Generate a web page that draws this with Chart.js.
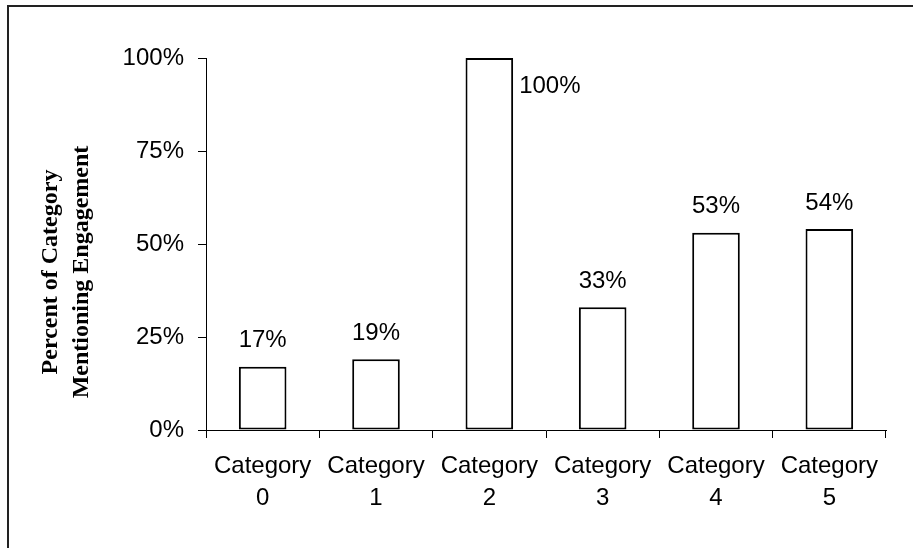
<!DOCTYPE html>
<html>
<head>
<meta charset="utf-8">
<script src="https://cdn.jsdelivr.net/npm/chart.js@4/dist/chart.umd.min.js"></script>
<style>
  html, body { margin: 0; padding: 0; background: #fff; }
  canvas { display: block; }
</style>
</head>
<body>
<canvas id="chart" width="913" height="548"></canvas>
<script>
// Share of each category that mentions engagement (percent)
const categories = ['Category 0', 'Category 1', 'Category 2', 'Category 3', 'Category 4', 'Category 5'];
const percentValues = [17, 19, 100, 33, 53, 54];
const yTickValues = [0, 25, 50, 75, 100];
const yAxisTitle = ['Percent of Category', 'Mentioning Engagement'];

const sansFont = "'Liberation Sans', Arial, sans-serif";
const serifFont = "'Liberation Serif', 'Times New Roman', serif";

// Outer frame (top and left edges)
const framePlugin = {
  id: 'frame',
  beforeDraw(chart) {
    const ctx = chart.ctx;
    ctx.save();
    ctx.fillStyle = '#fff';
    ctx.fillRect(0, 0, chart.width, chart.height);
    ctx.strokeStyle = '#222';
    ctx.lineWidth = 2;
    ctx.beginPath();
    ctx.moveTo(8, chart.height);
    ctx.lineTo(8, 6);
    ctx.lineTo(chart.width, 6);
    ctx.stroke();
    ctx.restore();
  }
};

// Two-line rotated y-axis title in bold serif
const axisTitlePlugin = {
  id: 'axisTitle',
  afterDraw(chart) {
    const ctx = chart.ctx;
    ctx.save();
    ctx.fillStyle = '#000';
    ctx.font = 'bold 24px ' + serifFont;
    ctx.textAlign = 'center';
    ctx.textBaseline = 'alphabetic';
    const baselines = [57, 88];
    yAxisTitle.forEach((line, i) => {
      ctx.save();
      ctx.translate(baselines[i], 272);
      ctx.rotate(-Math.PI / 2);
      ctx.fillText(line, 0, 0);
      ctx.restore();
    });
    ctx.restore();
  }
};

// Value labels above each bar; a full-height bar gets its label beside the top
const valueLabelPlugin = {
  id: 'valueLabels',
  afterDatasetsDraw(chart) {
    const ctx = chart.ctx;
    const meta = chart.getDatasetMeta(0);
    const yScale = chart.scales.y;
    ctx.save();
    ctx.fillStyle = '#000';
    ctx.font = '24px ' + sansFont;
    ctx.textBaseline = 'middle';
    meta.data.forEach((bar, i) => {
      const v = percentValues[i];
      const text = v + '%';
      if (v >= yScale.max) {
        ctx.textAlign = 'left';
        ctx.fillText(text, bar.x + bar.width / 2 + 6, bar.y + 28);
      } else {
        ctx.textAlign = 'center';
        ctx.fillText(text, bar.x, bar.y - 26);
      }
    });
    ctx.restore();
  }
};

new Chart(document.getElementById('chart'), {
  type: 'bar',
  data: {
    labels: categories.map(c => c.split(' ')),
    datasets: [{
      data: percentValues,
      backgroundColor: '#ffffff',
      borderColor: '#000000',
      borderWidth: 2,
      borderSkipped: false,
      categoryPercentage: 1,
      barPercentage: 0.42
    }]
  },
  options: {
    responsive: false,
    animation: false,
    devicePixelRatio: 1,
    layout: { padding: { top: 58, right: 27, left: 0, bottom: 0 } },
    plugins: {
      legend: { display: false },
      tooltip: { enabled: false }
    },
    scales: {
      x: {
        grid: {
          display: true,
          drawOnChartArea: false,
          drawTicks: true,
          tickLength: 8,
          color: '#000',
          offset: true
        },
        border: { display: true, color: '#000', width: 1 },
        ticks: {
          color: '#000',
          font: { family: sansFont, size: 24, lineHeight: 1.32 },
          padding: 13,
          maxRotation: 0,
          autoSkip: false
        },
        afterFit(scale) {
          scale.height = 118;
          scale.paddingLeft = 0;
          scale.paddingRight = 0;
        }
      },
      y: {
        min: 0,
        max: 100,
        afterBuildTicks(scale) {
          scale.ticks = yTickValues.map(v => ({ value: v }));
        },
        grid: {
          display: true,
          drawOnChartArea: false,
          drawTicks: true,
          tickLength: 8,
          color: '#000'
        },
        border: { display: true, color: '#000', width: 1 },
        ticks: {
          color: '#000',
          font: { family: sansFont, size: 24 },
          padding: 14,
          callback: v => v + '%'
        },
        afterFit(scale) {
          scale.width = 206;
          scale.paddingTop = 0;
          scale.paddingBottom = 0;
        }
      }
    }
  },
  plugins: [framePlugin, axisTitlePlugin, valueLabelPlugin]
});
</script>
</body>
</html>
